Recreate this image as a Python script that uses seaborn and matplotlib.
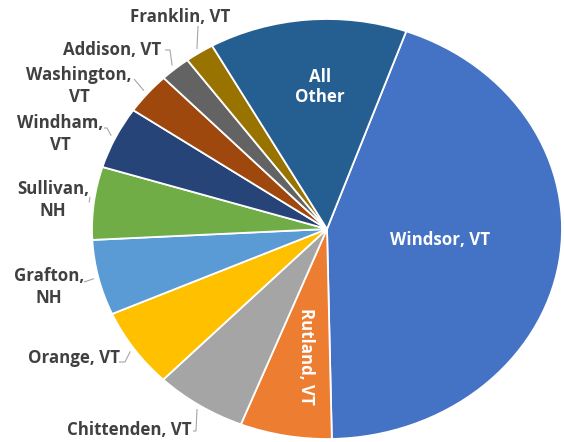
import numpy as np
import matplotlib
matplotlib.use("Agg")
import matplotlib.pyplot as plt
import seaborn as sns

# Share of total by county (percent)
counties = ["Windsor, VT", "Rutland, VT", "Chittenden, VT", "Orange, VT",
            "Grafton, NH", "Sullivan, NH", "Windham, VT", "Washington, VT",
            "Addison, VT", "Franklin, VT", "All Other"]
shares = [44.2, 6.3, 6.3, 6.1, 5.8, 5.6, 4.8, 3.2, 2.1, 2.0, 13.6]
colors = ["#4472C4", "#ED7D31", "#A5A5A5", "#FFC000", "#5B9BD5", "#70AD47",
          "#264478", "#9E480E", "#636363", "#997300", "#255E91"]

sns.set_style("white")
plt.rcParams["font.family"] = ["Open Sans", "DejaVu Sans"]

W, H = 564, 442
CX, CY, RX, RY = 327, 229, 235, 210

fig = plt.figure(figsize=(W / 100, H / 100), dpi=100)
ax = fig.add_axes([0, 0, 1, 1])
wedges, _ = ax.pie(shares, colors=colors, startangle=90 - 19.7,
                   counterclock=False, radius=1, center=(0, 0),
                   wedgeprops=dict(edgecolor="white", linewidth=1.3))
ax.set_aspect("auto")
ax.set_xlim(-CX / RX, (W - CX) / RX)
ax.set_ylim(-(H - CY) / RY, CY / RY)
ax.axis("off")


def px(x, y):
    """Pixel position (from top-left) to data coordinates."""
    return (x - CX) / RX, (CY - y) / RY


def rim(i, r=1.02):
    w = wedges[i]
    a = np.deg2rad((w.theta1 + w.theta2) / 2)
    return r * np.cos(a), r * np.sin(a)


FS = 12.2
inside = dict(color="white", fontweight="bold", fontsize=FS,
              ha="center", va="center")
ax.text(*px(440, 240), counties[0], **inside)
ax.text(*px(306, 356), counties[1], rotation=-90, **inside)
ax.text(*px(320, 87), "All\nOther", linespacing=1.2, **inside)

# outer labels: text centre, leader path points (pixels) before the rim
outer = {
    2: ((129, 430), False, [(193, 431), (196, 431)]),
    3: ((74, 358), False, [(119, 362), (125, 362)]),
    4: ((49, 287), True, [(84, 282)]),
    5: ((53, 200), True, [(90, 197)]),
    6: ((60, 134), True, [(104, 128), (107, 128)]),
    7: ((79, 86), True, [(134, 79)]),
    8: ((112, 50), False, [(165, 50), (170, 50)]),
    9: ((180, 17), False, [(198, 26)]),
}
for i, (pos, wrap, path) in outer.items():
    label = counties[i].replace(", ", ",\n") if wrap else counties[i]
    ax.text(*px(*pos), label, color="#404040", fontweight="bold",
            fontsize=FS, ha="center", va="center", linespacing=1.25)
    pts = [px(*p) for p in path] + [rim(i)]
    xs, ys = zip(*pts)
    ax.plot(xs, ys, color="#A6A6A6", lw=0.8, solid_capstyle="butt")

fig.savefig("out.png", dpi=100, facecolor="white")
